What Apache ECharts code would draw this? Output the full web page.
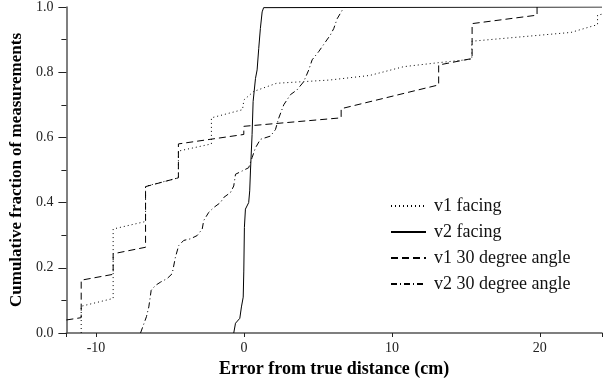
<!DOCTYPE html>
<html>
<head>
<meta charset="utf-8">
<script src="https://cdn.jsdelivr.net/npm/echarts@6/dist/echarts.min.js"></script>
<style>
  html, body { margin: 0; padding: 0; background: #fff; }
  #box { width: 609px; height: 383px; }
</style>
</head>
<body>
<div id="box"></div>
<script>
// tick labels: a tick at every cm, a label every 10 cm
var xMajorStep = 10;
var xTickValues = [-12, -11, -10, -9, -8, -7, -6, -5, -4, -3, -2, -1, 0, 1, 2, 3, 4, 5, 6, 7, 8, 9,
    10, 11, 12, 13, 14, 15, 16, 17, 18, 19, 20, 21, 22, 23, 24];

// series names
var seriesNames = ['v1 facing', 'v2 facing', 'v1 30 degree angle', 'v2 30 degree angle'];

// [error (cm), cumulative fraction]
var v1Facing = [
    [-11.0, 0], [-11.0, 0.082], [-8.84, 0.106], [-8.84, 0.319], [-6.65, 0.342],
    [-6.65, 0.45], [-4.43, 0.476], [-4.43, 0.558], [-2.2, 0.58], [-2.2, 0.66],
    [-0.1, 0.685], [0.0, 0.715], [0.66, 0.741], [2.2, 0.766], [5.8, 0.776],
    [8.5, 0.79], [10.8, 0.817], [13.1, 0.829], [14.8, 0.837], [15.4, 0.84],
    [15.4, 0.895], [22.1, 0.922], [23.9, 0.946], [23.9, 0.975], [24.2, 0.978]
];
var v2Facing = [
    [-0.69, 0], [-0.57, 0.03], [-0.28, 0.045], [-0.17, 0.08], [-0.05, 0.11],
    [-0.01, 0.19], [0.03, 0.324], [0.10, 0.38], [0.32, 0.40], [0.39, 0.436],
    [0.44, 0.497], [0.55, 0.609], [0.62, 0.71], [0.78, 0.781], [0.89, 0.807],
    [1.0, 0.873], [1.11, 0.934], [1.23, 0.985], [1.33, 0.998], [24.2, 1.0]
];
var v1Angle = [
    [-12, 0.04], [-11.0, 0.047], [-11.0, 0.162], [-8.84, 0.18], [-8.84, 0.243],
    [-6.65, 0.263], [-6.65, 0.449], [-4.43, 0.476], [-4.43, 0.58], [-0.01, 0.609],
    [-0.01, 0.634], [6.57, 0.66], [6.57, 0.688], [13.16, 0.761], [13.16, 0.822],
    [15.42, 0.842], [15.42, 0.949], [19.81, 0.975], [19.81, 1.0]
];
var v2Angle = [
    [-6.99, 0], [-6.59, 0.05], [-6.43, 0.08], [-6.27, 0.131], [-5.98, 0.146],
    [-5.64, 0.156], [-5.19, 0.167], [-4.85, 0.182], [-4.63, 0.233], [-4.41, 0.268],
    [-4.07, 0.284], [-3.61, 0.289], [-3.16, 0.299], [-2.82, 0.319], [-2.72, 0.345],
    [-2.38, 0.37], [-2.04, 0.385], [-1.59, 0.40], [-1.36, 0.416], [-0.91, 0.431],
    [-0.69, 0.451], [-0.57, 0.487], [-0.12, 0.497], [0.32, 0.507], [0.55, 0.538],
    [0.78, 0.568], [1.11, 0.594], [1.79, 0.604], [2.13, 0.624], [2.35, 0.659],
    [2.69, 0.70], [3.14, 0.731], [3.59, 0.746], [4.04, 0.771], [4.38, 0.807],
    [4.61, 0.838], [5.05, 0.863], [5.51, 0.893], [5.84, 0.914], [6.07, 0.934],
    [6.30, 0.964], [6.64, 0.99], [6.79, 1.0]
];

var font = 'Liberation Serif';
var axisColor = '#555';

var chart = echarts.init(document.getElementById('box'), null, { renderer: 'canvas' });

function lineSeries(name, data, dash) {
    return {
        name: name,
        type: 'line',
        data: data,
        showSymbol: false,
        symbol: 'none',
        itemStyle: { color: '#000' },
        lineStyle: { color: '#000', width: 1, type: dash }
    };
}

var option = {
    animation: false,
    grid: { left: 66, right: 7, top: 5, bottom: 50 },
    legend: {
        orient: 'vertical',
        left: 390,
        top: 197,
        padding: 0,
        itemWidth: 35,
        itemHeight: 14,
        itemGap: 8,
        data: seriesNames,
        itemStyle: { opacity: 0 },
        textStyle: { fontFamily: font, fontSize: 18, color: '#111', padding: [0, 0, 0, 3] }
    },
    xAxis: {
        type: 'value',
        min: -12,
        max: 24.2,
        name: 'Error from true distance (cm)',
        nameLocation: 'middle',
        nameGap: 26,
        nameTextStyle: { fontFamily: font, fontSize: 18, fontWeight: 'bold', color: '#000' },
        axisLine: { show: true, onZero: false, lineStyle: { color: axisColor, width: 1.5 } },
        axisTick: { show: true, length: 4, lineStyle: { color: '#222' } },
        axisLabel: {
            customValues: xTickValues,
            margin: 8,
            fontFamily: font,
            fontSize: 14,
            color: '#222',
            formatter: function (v) { return v % xMajorStep === 0 ? String(v) : ''; }
        },
        splitLine: { show: false }
    },
    yAxis: {
        type: 'value',
        min: 0,
        max: 1,
        interval: 0.2,
        name: 'Cumulative fraction of measurements',
        nameLocation: 'middle',
        nameGap: 40,
        nameTextStyle: { fontFamily: font, fontSize: 17, fontWeight: 'bold', color: '#000' },
        axisLine: { show: true, onZero: false, lineStyle: { color: axisColor, width: 1.5 } },
        axisTick: { show: true, length: 8, lineStyle: { color: '#222' } },
        minorTick: { show: true, splitNumber: 2, length: 5, lineStyle: { color: '#222' } },
        axisLabel: {
            margin: 13,
            fontFamily: font,
            fontSize: 14,
            color: '#222',
            formatter: function (v) { return v.toFixed(1); }
        },
        splitLine: { show: false }
    },
    series: [
        lineSeries(seriesNames[0], v1Facing, [1, 3]),
        lineSeries(seriesNames[1], v2Facing, 'solid'),
        lineSeries(seriesNames[2], v1Angle, [7, 4]),
        lineSeries(seriesNames[3], v2Angle, [6, 3, 1, 3])
    ]
};

chart.setOption(option);
</script>
</body>
</html>
